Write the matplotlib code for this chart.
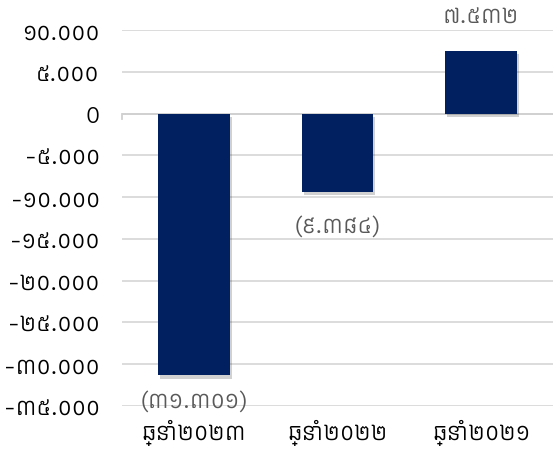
import matplotlib
matplotlib.use("Agg")
import matplotlib.pyplot as plt
from matplotlib import font_manager as fm
import matplotlib.patheffects as pe
from matplotlib.ticker import FuncFormatter, MultipleLocator

D = "/usr/share/fonts/truetype/google-fonts/"
fams = []
for f in ["KantumruyPro[wght].ttf", "NotoSansKhmer[wdth,wght].ttf"]:
    try:
        fm.fontManager.addfont(D + f)
        fams.append(fm.FontProperties(fname=D + f).get_name())
    except Exception:
        pass
plt.rcParams['font.family'] = fams + ['DejaVu Sans']

categories = ["ឆ្នាំ២០២៣", "ឆ្នាំ២០២២", "ឆ្នាំ២០២១"]
values = [-31301, -9384, 7532]
value_labels = ["(៣១.៣០១)", "(៩.៣៨៤)", "៧.៥៣២"]
label_offsets = [-11, -17, 16.5]   # points from bar end (style)

KH = str.maketrans("0123456789", "០១២៣៤៥៦៧៨៩")

def fmt(v, pos):
    v = int(round(v))
    if v == 0:
        return "0"
    s = f"{abs(v):,}".replace(",", ".").translate(KH)
    return ("-" if v < 0 else "") + s

fig = plt.figure(figsize=(5.53, 4.52), dpi=100)
ax = fig.add_axes([0.2206, 0.0996, 0.7794, 0.8318])
x = list(range(len(categories)))
bars = ax.bar(x, values, width=0.5, color="#002060", zorder=3)
for b in bars:
    b.set_path_effects([pe.SimplePatchShadow(offset=(1.5, -2.5), shadow_rgbFace="black", alpha=0.18), pe.Normal()])

ax.set_xlim(-0.5, 2.5)
ax.set_ylim(-35000, 10000)
ax.yaxis.set_major_locator(MultipleLocator(5000))
ax.yaxis.set_major_formatter(FuncFormatter(fmt))
ax.grid(axis="y", color="#d9d9d9", linewidth=1.3, zorder=0)
for s in ax.spines.values():
    s.set_visible(False)
ax.axhline(0, color="#d0d0d0", linewidth=1.3, zorder=2)
ax.plot([-0.5, -0.5], [0, -700], color="#d0d0d0", linewidth=1.3, zorder=2, clip_on=False)
ax.tick_params(axis="y", length=0, pad=16, labelsize=17, labelcolor="#000000")
ax.tick_params(axis="x", length=0, pad=9, labelsize=17)
ax.set_xticks(x)
ax.set_xticklabels(categories)

for xi, v, t, off in zip(x, values, value_labels, label_offsets):
    if v < 0:
        ax.annotate(t, (xi, v), xytext=(0, off), textcoords="offset points", ha="center", va="top", fontsize=17, color="#595959")
    else:
        ax.annotate(t, (xi, v), xytext=(0, off), textcoords="offset points", ha="center", va="bottom", fontsize=17, color="#595959")

fig.savefig("out.png", dpi=100)
